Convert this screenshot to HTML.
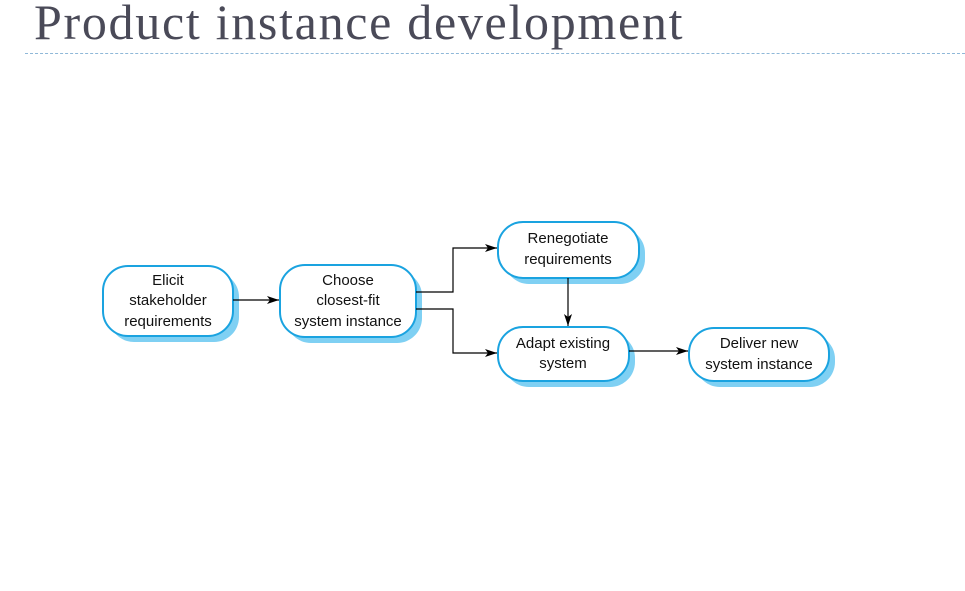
<!DOCTYPE html>
<html><head><style>
body{margin:0;width:965px;height:591px;background:#fff;overflow:hidden;position:relative;font-family:"Liberation Sans",sans-serif}
.t{position:absolute;left:34px;top:-7px;font-family:"Liberation Serif",serif;font-size:50px;letter-spacing:1.7px;color:#4a4a58;white-space:nowrap}
.hr{position:absolute;left:25px;top:53px;width:940px;border-top:1px dashed #8fb8d8}
</style></head><body>
<div class="t">Product instance development</div>
<div class="hr"></div>
<svg width="965" height="591" style="position:absolute;left:0;top:0" font-family="Liberation Sans, sans-serif" font-size="15" text-anchor="middle" fill="#111">
<defs><marker id="a" markerWidth="12" markerHeight="8" refX="12" refY="4" orient="auto" markerUnits="userSpaceOnUse"><path d="M0,0 L12,4 L0,8 L3,4z" fill="#000"/></marker></defs>
<g fill="#7fd0f3">
<rect x="109" y="272" width="130" height="70" rx="25"/>
<rect x="286" y="271" width="136" height="72" rx="25"/>
<rect x="504" y="228" width="141" height="56" rx="25"/>
<rect x="504" y="333" width="131" height="54" rx="25"/>
<rect x="695" y="334" width="140" height="53" rx="25"/>
</g>
<g fill="#fff" stroke="#1aa3e0" stroke-width="2">
<rect x="103" y="266" width="130" height="70" rx="25"/>
<rect x="280" y="265" width="136" height="72" rx="25"/>
<rect x="498" y="222" width="141" height="56" rx="25"/>
<rect x="498" y="327" width="131" height="54" rx="25"/>
<rect x="689" y="328" width="140" height="53" rx="25"/>
</g>
<g stroke="#000" stroke-width="1.2" fill="none" marker-end="url(#a)">
<path d="M233,300 H279"/>
<path d="M416,292 H453 V248 H497"/>
<path d="M416,309 H453 V353 H497"/>
<path d="M568,278 V326"/>
<path d="M629,351 H688"/>
</g>
<text x="168" y="285">Elicit</text><text x="168" y="305">stakeholder</text><text x="168" y="326">requirements</text>
<text x="348" y="285">Choose</text><text x="348" y="305">closest-fit</text><text x="348" y="326">system instance</text>
<text x="568" y="243">Renegotiate</text><text x="568" y="264">requirements</text>
<text x="563" y="348">Adapt existing</text><text x="563" y="368">system</text>
<text x="759" y="348">Deliver new</text><text x="759" y="369">system instance</text>
</svg>
</body></html>
